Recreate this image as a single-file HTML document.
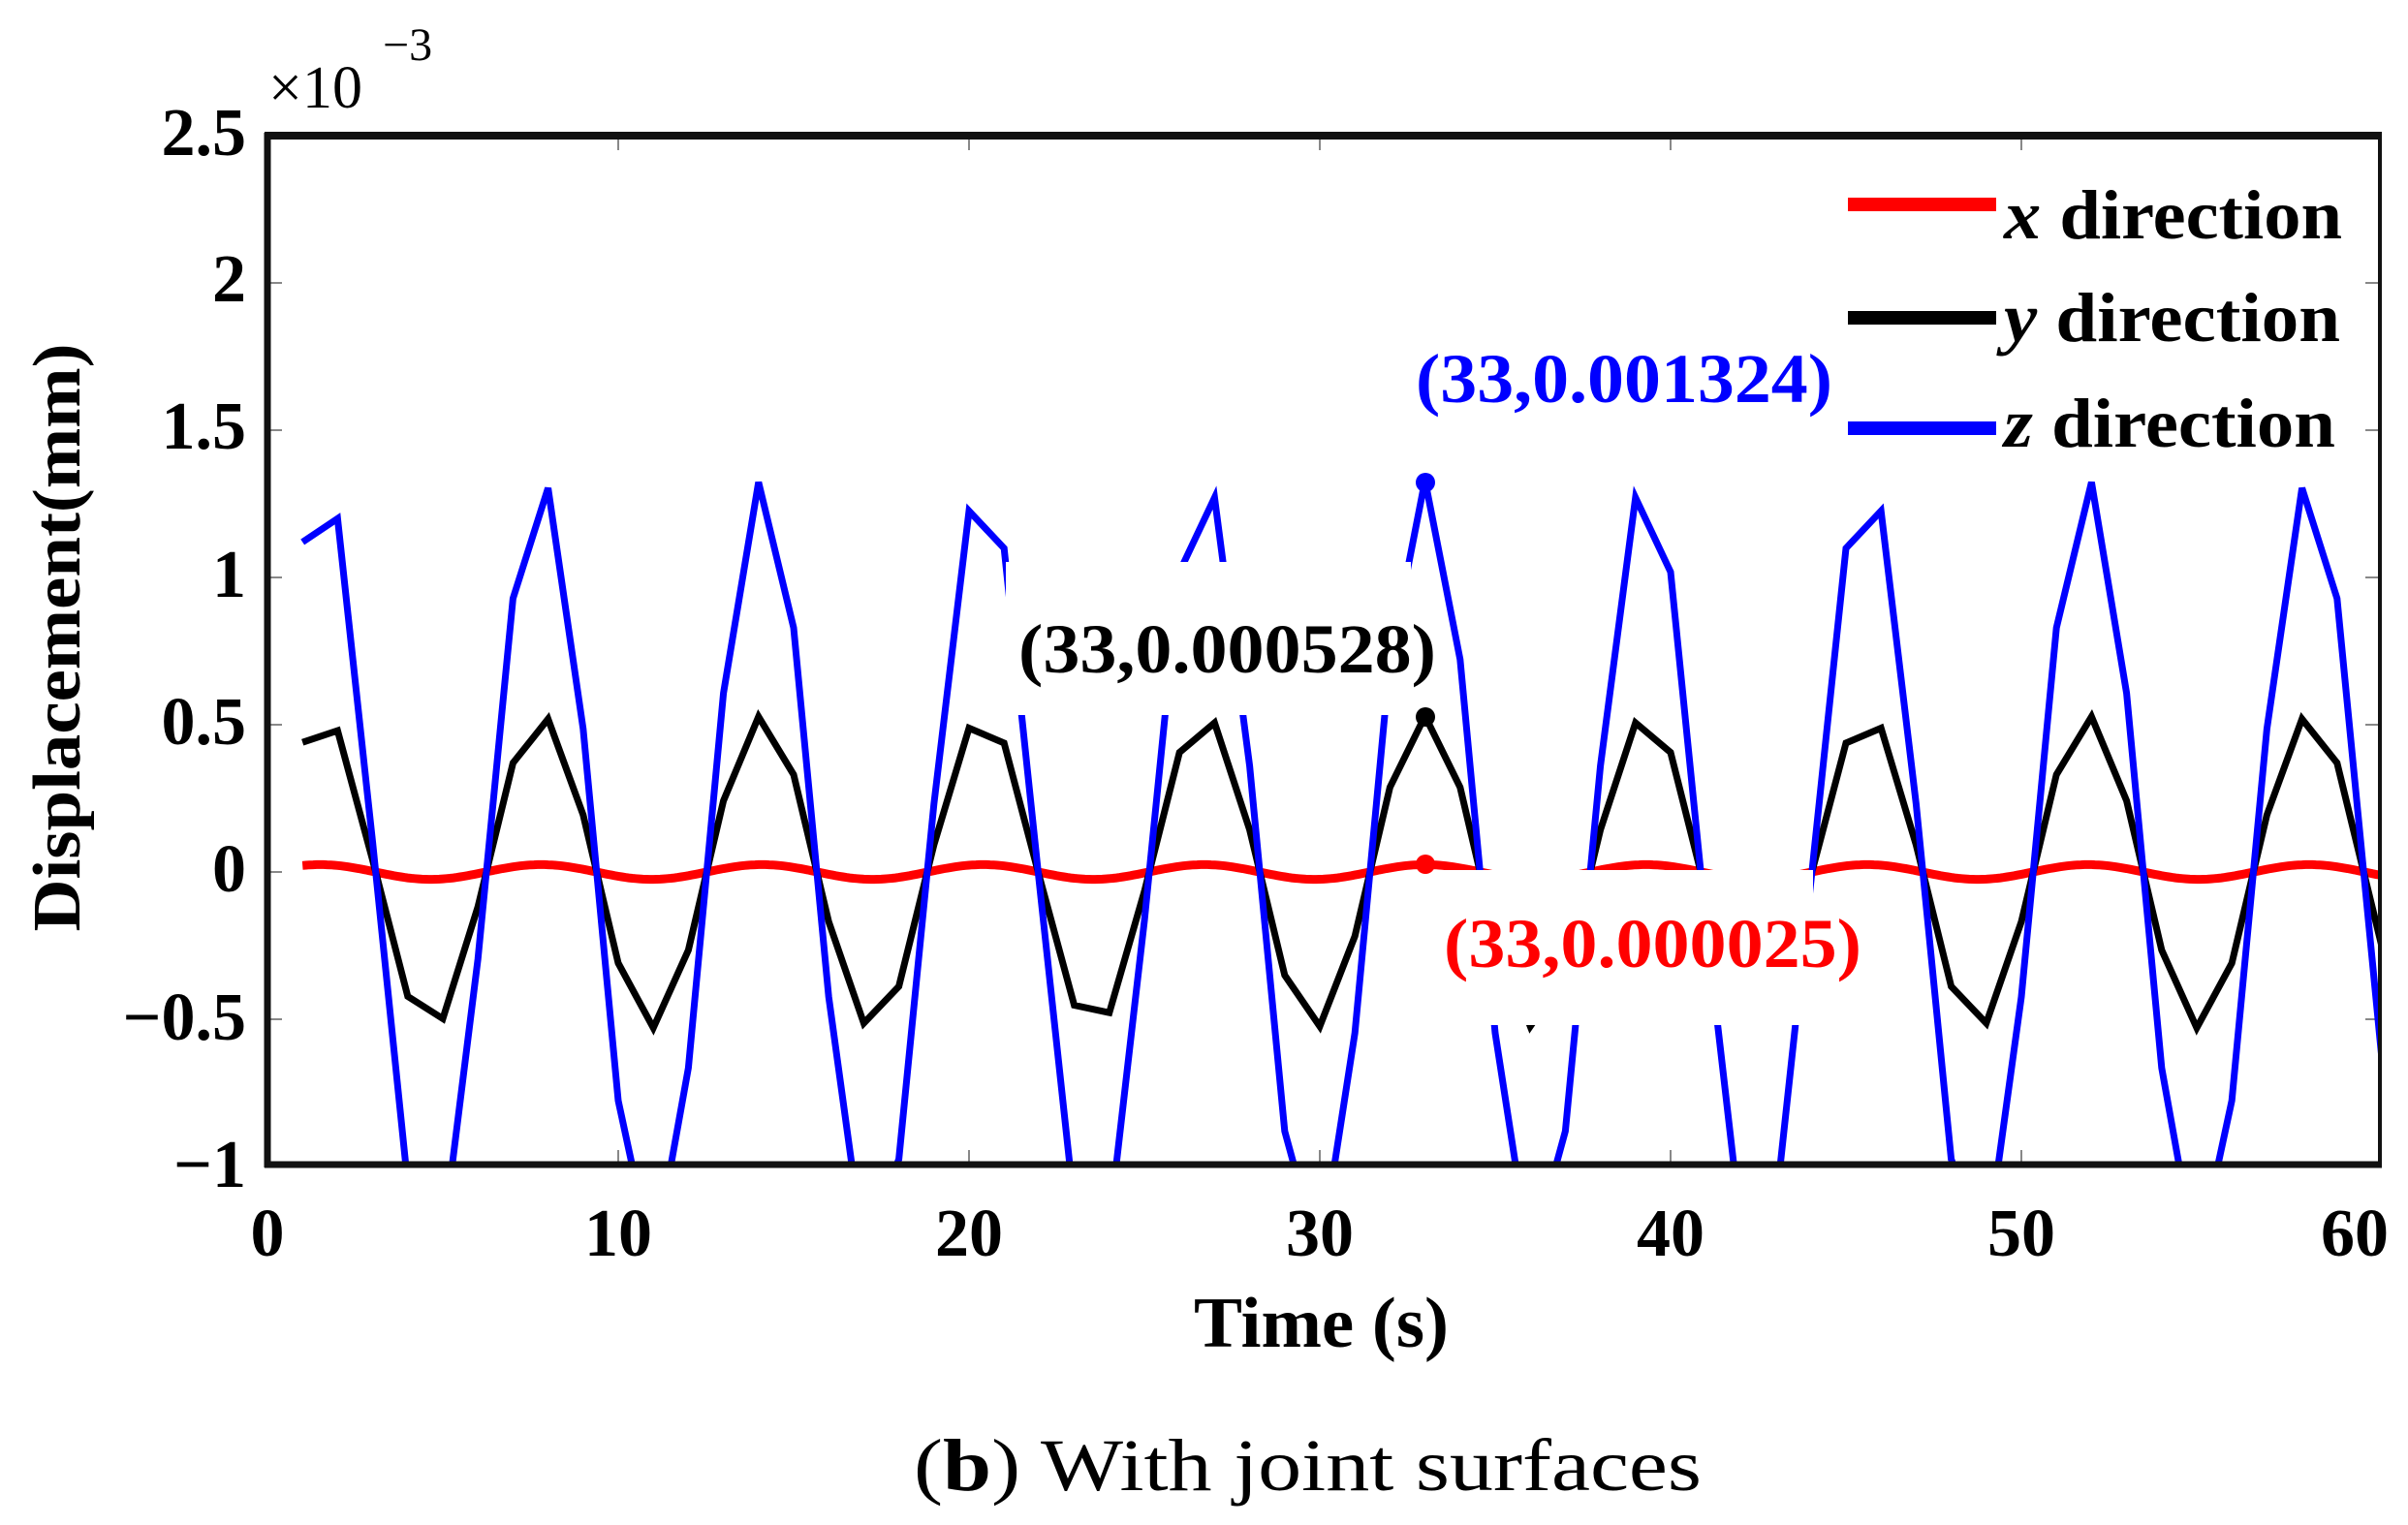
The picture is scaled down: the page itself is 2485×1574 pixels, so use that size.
<!DOCTYPE html>
<html><head><meta charset="utf-8"><style>
html,body{margin:0;padding:0;background:#fff;}
svg{display:block;}
text{font-family:"Liberation Serif",serif;}
</style></head><body>
<svg id="s" width="2485" height="1574" viewBox="0 0 2485 1574" xmlns="http://www.w3.org/2000/svg">
<defs><clipPath id="c"><rect x="276" y="140" width="2180" height="1062"/></clipPath></defs>
<rect width="2485" height="1574" fill="#fff"/>
<g id="ticks" stroke="#888" stroke-width="2"></g>
<g clip-path="url(#c)" fill="none" stroke-linejoin="miter">
<polyline id="red" stroke="#ff0000" stroke-width="9"/>
<polyline id="blk" stroke="#000" stroke-width="7"/>
<polyline id="blu" stroke="#0000ff" stroke-width="7"/>
</g>
<rect x="1038" y="580" width="418" height="158" fill="#fff"/>
<rect x="1474" y="898" width="397" height="160" fill="#fff"/>
<circle cx="1471" cy="498" r="10" fill="#0000ff"/>
<circle cx="1471" cy="740" r="10" fill="#000"/>
<circle cx="1471" cy="892" r="10" fill="#ff0000"/>
<g fill="none" stroke="#111">
<line x1="273" y1="140" x2="2458" y2="140" stroke-width="8"/>
<line x1="273" y1="1202" x2="2458" y2="1202" stroke-width="7"/>
<line x1="276" y1="137" x2="276" y2="1205" stroke-width="7"/>
<line x1="2456" y1="137" x2="2456" y2="1205" stroke-width="4"/>
</g>
<g font-weight="bold" font-size="70" text-anchor="end">
<text x="254" y="160">2.5</text>
<text x="254" y="311">2</text>
<text x="254" y="463">1.5</text>
<text x="254" y="616">1</text>
<text x="254" y="768">0.5</text>
<text x="254" y="920">0</text>
<text x="254" y="1073">−0.5</text>
<text x="254" y="1225">−1</text>
</g>
<g font-weight="bold" font-size="70" text-anchor="middle">
<text x="276" y="1296">0</text>
<text x="638" y="1296">10</text>
<text x="1000" y="1296">20</text>
<text x="1362" y="1296">30</text>
<text x="1724" y="1296">40</text>
<text x="2086" y="1296">50</text>
<text x="2430" y="1296">60</text>
</g>
<text x="277" y="111" font-size="62">×10</text>
<text x="395" y="62" font-size="48">−3</text>
<text transform="translate(82,658) rotate(-90)" text-anchor="middle" font-weight="bold" font-size="70" textLength="607" lengthAdjust="spacingAndGlyphs">Displacement(mm)</text>
<text x="1232" y="1390" font-weight="bold" font-size="74" textLength="263" lengthAdjust="spacingAndGlyphs">Time (s)</text>
<text x="943" y="1538" font-size="76" textLength="813" lengthAdjust="spacingAndGlyphs">(<tspan font-weight="bold">b</tspan>) With joint surfaces</text>
<line x1="1907" y1="211" x2="2060" y2="211" stroke="#ff0000" stroke-width="14"/>
<line x1="1907" y1="328" x2="2060" y2="328" stroke="#000" stroke-width="14"/>
<line x1="1907" y1="442" x2="2060" y2="442" stroke="#0000ff" stroke-width="14"/>
<g font-weight="bold" font-size="72">
<text x="2068" y="246" textLength="349" lengthAdjust="spacingAndGlyphs"><tspan font-style="italic">x</tspan> direction</text>
<text x="2068" y="352" textLength="347" lengthAdjust="spacingAndGlyphs"><tspan font-style="italic">y</tspan> direction</text>
<text x="2068" y="461" textLength="342" lengthAdjust="spacingAndGlyphs"><tspan font-style="italic">z</tspan> direction</text>
<text x="1461" y="415" fill="#0000ff" textLength="430" lengthAdjust="spacingAndGlyphs">(33,0.001324)</text>
<text x="1051" y="694" fill="#000" textLength="431" lengthAdjust="spacingAndGlyphs">(33,0.000528)</text>
<text x="1490" y="998" fill="#ff0000" textLength="431" lengthAdjust="spacingAndGlyphs">(33,0.000025)</text>
</g>
</svg>
<script>
(function(){
var X=function(t){return 276+t*36.2;},Y=function(v){return 900-v*304;};
var T=6.3;
function f(t){return Math.cos(2*Math.PI*(t-33)/T);}
var b=[],k=[],r=[];
var ts=[];for(var t=1;t<=60;t++)ts.push(t);ts.push(60.3);
ts.forEach(function(t){
var bv=1.33*f(t),kv=0.53*f(t);
if(t===1){bv=1.12;kv=0.44;} if(t===2){bv=1.2;kv=0.48;}
b.push(X(t).toFixed(1)+","+Y(bv).toFixed(1));k.push(X(t).toFixed(1)+","+Y(kv).toFixed(1));});
for(var t=1;t<=60.3;t+=0.1){r.push(X(t).toFixed(1)+","+Y(0.025*f(t)).toFixed(1));}
document.getElementById('blu').setAttribute('points',b.join(' '));
document.getElementById('blk').setAttribute('points',k.join(' '));
document.getElementById('red').setAttribute('points',r.join(' '));
var g=document.getElementById('ticks'),ns="http://www.w3.org/2000/svg";
function ln(a,b2,c,d){var l=document.createElementNS(ns,'line');l.setAttribute('x1',a);l.setAttribute('y1',b2);l.setAttribute('x2',c);l.setAttribute('y2',d);g.appendChild(l);}
for(var i=1;i<6;i++){var x=X(i*10);ln(x,140,x,155);ln(x,1202,x,1187);}
for(var j=-1;j<=4;j++){var y=Y(j*0.5);ln(276,y,291,y);ln(2456,y,2441,y);}
})();
</script>
</body></html>
